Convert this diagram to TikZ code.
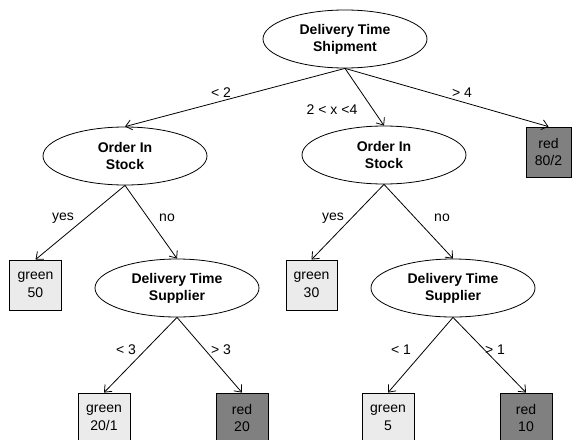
\documentclass[tikz,border=0pt]{standalone}
\usepackage{fontspec}
\setmainfont{Liberation Sans}
\usetikzlibrary{arrows.meta,shapes.geometric}
\tikzset{
  decision/.style={ellipse,draw,line width=0.8pt,minimum width=164pt,minimum height=58pt,inner sep=0pt,
    font=\fontsize{14}{17}\selectfont\bfseries,align=center},
  leafgreen/.style={draw,line width=0.8pt,fill=black!8,minimum width=52pt,minimum height=50pt,inner sep=0pt,
    font=\fontsize{14}{17.5}\selectfont,align=center},
  leafred/.style={leafgreen,fill=black!50},
  edgelab/.style={font=\fontsize{14}{17}\selectfont,inner sep=0pt},
  conn/.style={line width=0.8pt,-{Straight Barb[length=6pt,width=10pt]}}
}
\begin{document}
\begin{tikzpicture}[x=1pt,y=-1pt]
\useasboundingbox (0,0) rectangle (572,439);
\node[decision] (root) at (345,39) {Delivery Time\\Shipment};
\node[decision] (los) at (125,156) {Order In\\Stock};
\node[decision] (mos) at (384,155) {Order In\\Stock};
\node[leafred,minimum width=45pt] (r80) at (548.5,152) {red\\80/2};
\node[leafgreen] (g50) at (35.5,285) {green\\50};
\node[leafgreen,minimum width=51pt] (g30) at (311.5,285) {green\\30};
\node[decision] (lds) at (177,288) {Delivery Time\\Supplier};
\node[decision] (rds) at (453,288) {Delivery Time\\Supplier};
\node[leafgreen] (g20) at (104,418) {green\\20/1};
\node[leafred] (r20) at (242,418) {red\\20};
\node[leafgreen] (g5) at (388,418) {green\\5};
\node[leafred] (r10) at (526,418) {red\\10};

\draw[conn] (root.south) -- (los.north);
\draw[conn] (root.south) -- (mos.north);
\draw[conn] (root.south) -- (r80.north);
\draw[conn] (los.south) -- (g50.north);
\draw[conn] (los.south) -- (lds.north);
\draw[conn] (mos.south) -- (g30.north);
\draw[conn] (mos.south) -- (rds.north);
\draw[conn] (lds.south) -- (g20.north);
\draw[conn] (lds.south) -- (r20.north);
\draw[conn] (rds.south) -- (g5.north);
\draw[conn] (rds.south) -- (r10.north);

\node[edgelab] (l1) at (221,93) {< 2};
\node[edgelab] (l2) at (332,110) {2 < x <4};
\node[edgelab] (l3) at (462,93) {> 4};
\node[edgelab] (l4) at (63,218) {yes};
\node[edgelab] (l5) at (167,218) {no};
\node[edgelab] (l6) at (333,218) {yes};
\node[edgelab] (l7) at (442,218) {no};
\node[edgelab] (l8) at (126,350) {< 3};
\node[edgelab] (l9) at (221,350) {> 3};
\node[edgelab] (l10) at (401,350) {< 1};
\node[edgelab] (l11) at (495,350) {> 1};
\end{tikzpicture}
\end{document}
